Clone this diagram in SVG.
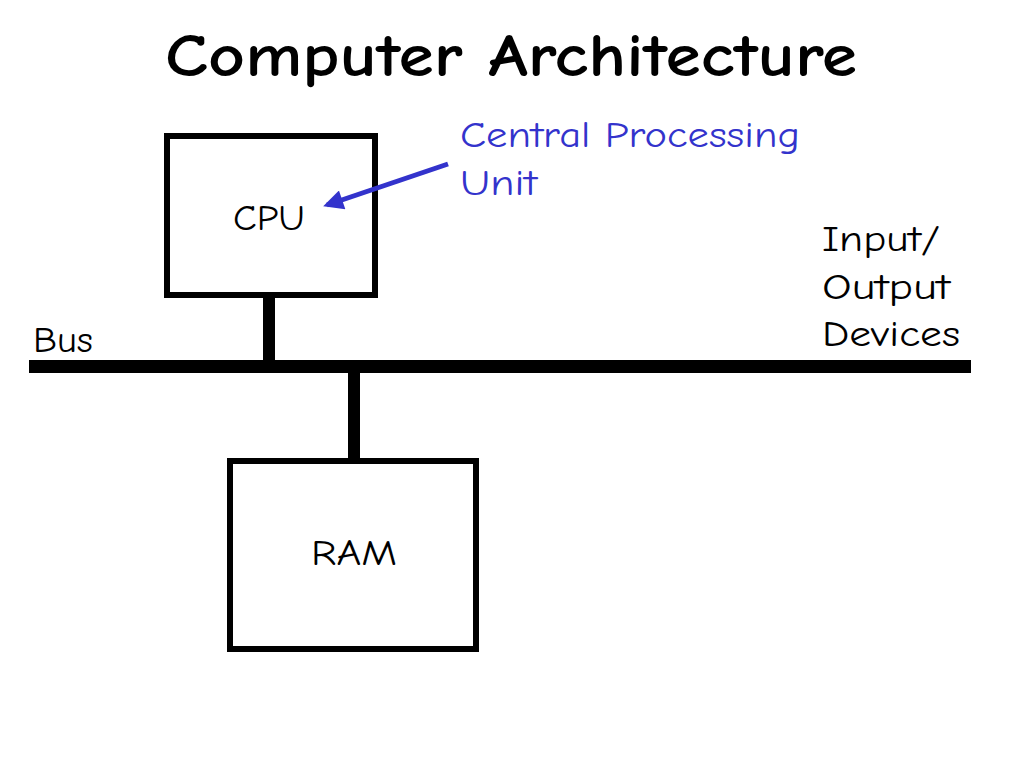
<svg xmlns="http://www.w3.org/2000/svg" width="1024" height="768" viewBox="0 0 1024 768">
<defs>
<style>
.t{font-family:"Comic Sans MS","Comic Neue","Liberation Sans","DejaVu Sans",sans-serif;font-size:37px;fill:#000}
.blue{fill:#3333cc}
.box{fill:#fff;stroke:#000;stroke-width:6}
.wire{stroke:#000;fill:none}
</style>
<marker id="ah" viewBox="0 0 10 10" refX="8" refY="5" markerWidth="4.5" markerHeight="4" orient="auto" markerUnits="strokeWidth">
<path d="M0,0 L10,5 L0,10 z" fill="#3333cc"/>
</marker>
</defs>
<rect width="1024" height="768" fill="#fff"/>
<text x="511" y="76" text-anchor="middle" class="t" style="font-weight:bold;font-size:60px" textLength="692" lengthAdjust="spacingAndGlyphs">Computer Architecture</text>
<g id="cpu">
<rect class="box" x="167" y="136" width="208" height="159"/>
<text class="t" x="233" y="230" textLength="72" lengthAdjust="spacingAndGlyphs">CPU</text>
</g>
<g id="ram">
<rect class="box" x="230" y="461" width="246" height="188"/>
<text class="t" x="311" y="565" textLength="86" lengthAdjust="spacingAndGlyphs">RAM</text>
</g>
<g id="bus-label">
<text class="t" x="33" y="352" textLength="60" lengthAdjust="spacingAndGlyphs">Bus</text>
</g>
<g id="io-label">
<text class="t" x="822" y="251" textLength="118" lengthAdjust="spacingAndGlyphs">Input/</text>
<text class="t" x="822" y="299" textLength="128" lengthAdjust="spacingAndGlyphs">Output</text>
<text class="t" x="822" y="346" textLength="138" lengthAdjust="spacingAndGlyphs">Devices</text>
</g>
<g id="cpu-note">
<text class="t blue" x="460" y="147" textLength="340" lengthAdjust="spacingAndGlyphs">Central Processing</text>
<text class="t blue" x="460" y="195" textLength="77" lengthAdjust="spacingAndGlyphs">Unit</text>
</g>
<g id="connectors">
<line class="wire" x1="29" y1="366.5" x2="971" y2="366.5" stroke-width="13"/>
<line class="wire" x1="269" y1="298" x2="269" y2="362" stroke-width="12"/>
<line class="wire" x1="354" y1="370" x2="354" y2="459" stroke-width="12"/>
<line x1="448" y1="164" x2="327" y2="205" stroke="#3333cc" stroke-width="5" marker-end="url(#ah)"/>
</g>
</svg>
